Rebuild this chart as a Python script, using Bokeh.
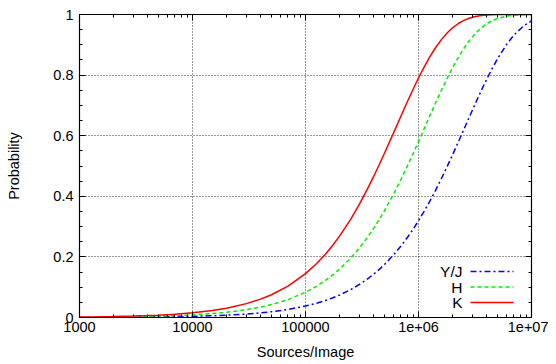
from bokeh.plotting import figure
from bokeh.models import (FixedTicker, LogAxis, LinearAxis, Label, Arrow,
                          ColumnDataSource)
from bokeh.embed import file_html
from bokeh.resources import INLINE

# ---- data ----
sources = [1000, 1500, 2000, 3000, 4000, 5000, 7000, 1e4, 1.5e4, 2e4, 3e4, 4e4, 5e4,
           7e4, 1e5, 1.25e5, 1.5e5, 1.75e5, 2e5, 2.5e5, 3e5, 3.5e5, 4e5, 4.5e5, 5e5,
           6e5, 7e5, 8e5, 9e5, 1e6, 1.1e6, 1.25e6, 1.4e6, 1.6e6, 1.8e6, 2e6, 2.25e6,
           2.5e6, 2.8e6, 3.2e6, 3.6e6, 4e6, 4.5e6, 5e6, 6e6, 7e6, 8.5e6, 1e7]
prob_yj = [0.0004, 0.0006, 0.0008, 0.0012, 0.0015, 0.0019, 0.0027, 0.0038, 0.0058,
           0.0077, 0.0115, 0.0153, 0.019, 0.0266, 0.0377, 0.0469, 0.0561, 0.0651,
           0.0741, 0.0917, 0.109, 0.126, 0.1426, 0.1589, 0.1749, 0.2061, 0.236,
           0.2649, 0.2926, 0.3194, 0.345, 0.3817, 0.4164, 0.4596, 0.4996, 0.5366,
           0.5791, 0.6177, 0.6594, 0.708, 0.7495, 0.7853, 0.8228, 0.8538, 0.9005,
           0.9323, 0.962, 0.9786]
prob_h = [0.0009, 0.0013, 0.0017, 0.0026, 0.0035, 0.0043, 0.0061, 0.0087, 0.013,
          0.0172, 0.0257, 0.0342, 0.0426, 0.0591, 0.0833, 0.103, 0.1223, 0.1412,
          0.1596, 0.1954, 0.2296, 0.2624, 0.2938, 0.3238, 0.3526, 0.4065, 0.4559,
          0.5013, 0.5428, 0.5809, 0.6158, 0.6628, 0.704, 0.7513, 0.791, 0.8243,
          0.8587, 0.8863, 0.9124, 0.9381, 0.9563, 0.9691, 0.98, 0.9871, 0.9946,
          0.9977, 0.9994, 0.9998]
prob_k = [0.0016, 0.0023, 0.0031, 0.0047, 0.0062, 0.0078, 0.0109, 0.0155, 0.0232,
          0.0308, 0.0458, 0.0606, 0.0752, 0.1036, 0.1447, 0.1774, 0.2089, 0.2392,
          0.2684, 0.3233, 0.3742, 0.4212, 0.4647, 0.505, 0.5422, 0.6084, 0.6651,
          0.7135, 0.755, 0.7904, 0.8207, 0.8582, 0.8878, 0.9179, 0.9399, 0.9561,
          0.9703, 0.9799, 0.9874, 0.9933, 0.9964, 0.9981, 0.9991, 0.9996, 0.9999,
          1.0, 1.0, 1.0]
series_names = ["Y/J", "H", "K"]
series_colors = ["#0000ff", "#00f000", "#ff0000"]
series_dashes = ["6 3 2 3", "4 3", "solid"]

x_ticks = [1e3, 1e4, 1e5, 1e6, 1e7]
x_tick_labels = ["1000", "10000", "100000", "1e+06", "1e+07"]
y_ticks = [0, 0.2, 0.4, 0.6, 0.8, 1.0]
y_tick_labels = ["0", "0.2", "0.4", "0.6", "0.8", "1"]

x_minor = [m * d for d in [1e3, 1e4, 1e5, 1e6] for m in range(2, 10)]
y_minor = [i * 0.05 for i in range(21)]

FONT = "Liberation Sans"
FS = "14.5px"

p = figure(frame_width=452, frame_height=303, x_axis_type="log", x_range=(1e3, 1e7),
           y_range=(0, 1), output_backend="svg", toolbar_location=None,
           min_border_left=79, min_border_right=17, min_border_top=14,
           min_border_bottom=39)
p.outline_line_color = "black"
p.outline_line_width = 1.2

src = ColumnDataSource(dict(x=sources, yj=prob_yj, h=prob_h, k=prob_k))
for col, c, d in zip(["yj", "h", "k"], series_colors, series_dashes):
    p.line("x", col, source=src, color=c, line_width=1.5, line_dash=d)


def style_axis(ax, show_labels=True):
    ax.axis_line_color = "black"
    ax.major_tick_in = 6
    ax.major_tick_out = 0
    ax.minor_tick_in = 3
    ax.minor_tick_out = 0
    ax.major_tick_line_color = "black"
    ax.minor_tick_line_color = "black"
    ax.major_label_text_font = FONT
    ax.major_label_text_font_size = FS if show_labels else "1px"
    ax.major_label_text_color = "black"
    if not show_labels:
        ax.major_label_text_alpha = 0
        ax.major_label_standoff = 0
    ax.axis_label_text_font = FONT
    ax.axis_label_text_font_size = FS
    ax.axis_label_text_font_style = "normal"
    ax.axis_label_text_color = "black"


xt = FixedTicker(ticks=x_ticks, minor_ticks=x_minor)
yt = FixedTicker(ticks=y_ticks, minor_ticks=y_minor)

xa = p.xaxis[0]
xa.ticker = xt
xa.major_label_overrides = {t: l for t, l in zip(x_ticks, x_tick_labels)}
xa.axis_label = "Sources/Image"
xa.major_label_standoff = 4
xa.axis_label_standoff = 9
style_axis(xa)

ya = p.yaxis[0]
ya.ticker = yt
ya.major_label_overrides = {t: l for t, l in zip(y_ticks, y_tick_labels)}
ya.axis_label = "Probability"
ya.major_label_standoff = 6
ya.axis_label_standoff = 28
style_axis(ya)

top = LogAxis(ticker=FixedTicker(ticks=x_ticks, minor_ticks=x_minor))
top.major_label_overrides = {t: "." for t in x_ticks}
style_axis(top, show_labels=False)
p.add_layout(top, "above")
right = LinearAxis(ticker=FixedTicker(ticks=y_ticks, minor_ticks=y_minor))
right.major_label_overrides = {t: "." for t in y_ticks}
style_axis(right, show_labels=False)
p.add_layout(right, "right")

for g in (p.xgrid[0], p.ygrid[0]):
    g.grid_line_color = "#333333"
    g.grid_line_dash = "1 2"
    g.grid_line_width = 1
p.xgrid[0].ticker = xt
p.ygrid[0].ticker = yt

# gnuplot-style key: label on the left, line sample on the right
for i, (name, c, d) in enumerate(zip(series_names, series_colors, series_dashes)):
    yy = 46 - 15.5 * i
    p.add_layout(Label(x=383, y=yy, x_units="screen", y_units="screen",
                       text=name, text_align="right", text_baseline="middle",
                       text_font=FONT, text_font_size="15.5px", text_color="black"))
    p.add_layout(Arrow(x_start=391, y_start=yy, x_end=434, y_end=yy,
                       start_units="screen", end_units="screen", start=None, end=None,
                       line_color=c, line_width=1.5, line_dash=d))

open("out.html", "w").write(file_html(p, INLINE))
